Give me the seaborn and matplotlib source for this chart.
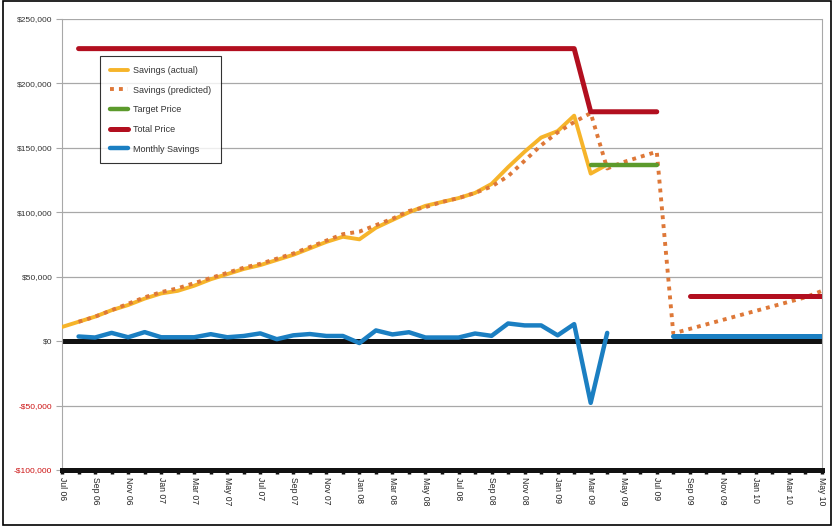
import matplotlib.pyplot as plt
import matplotlib.patches as mpatches
import numpy as np
import pandas as pd
import seaborn as sns

# =========================================================
# Data (monthly, Jul 06 .. May 10)
# =========================================================

months = pd.date_range("2006-07-01", "2010-05-01", freq="MS")
month_labels = [m.strftime("%b %y") for m in months]

actual_idx = list(range(0, 34))
savings_actual = [
    11000, 15000, 19000, 24000, 28000, 33000, 37000, 39000, 43000, 48000,
    52000, 56000, 59000, 63000, 67000, 72000, 77000, 81000, 79000, 88000,
    94000, 100000, 105000, 108000, 111000, 115000, 122000, 135000, 147000, 158000,
    163000, 175000, 130000, 137000,
]

predicted_idx = list(range(1, 47))
savings_predicted = [
    15000, 19000, 24000, 29000, 34000, 38000, 41000, 45000, 49000, 53000,
    57000, 60000, 64000, 68000, 73000, 78000, 83000, 85000, 90000, 95000,
    101000, 104000, 108000, 111000, 115000, 120000, 128000, 140000, 152000, 162000,
    170000, 177000, 134000, 139000, 143000, 147000,
    6000, 9500, 13000, 16500, 20000, 23500, 27000, 30500, 34000, 39000,
]

target_idx = [32, 33, 34, 35, 36]
target_price = [137000, 137000, 137000, 137000, 137000]

total_idx_a = list(range(1, 37))
total_price_a = [227000] * 31 + [178000] * 5
total_idx_b = list(range(38, 47))
total_price_b = [35000] * 9

monthly_idx_a = list(range(1, 34))
monthly_savings_a = [
    3600, 2800, 6400, 3000, 7000, 3000, 3000, 3000, 5400, 3000,
    4000, 6000, 1500, 4500, 5500, 4000, 4000, -1500, 8300, 5200,
    6900, 2800, 2800, 2800, 5900, 4100, 13700, 12200, 12200, 4500,
    13200, -47900, 6400,
]
monthly_idx_b = list(range(37, 47))
monthly_savings_b = [4000] * 10

# =========================================================
# Figure
# =========================================================

sns.set_style("white")
plt.rcParams["font.family"] = ["Liberation Sans", "DejaVu Sans"]

fig = plt.figure(figsize=(8.35, 5.26), dpi=100)
ax = fig.add_axes([0.0743, 0.1065, 0.9101, 0.8574])

C_ACTUAL = "#F6B42A"
C_PRED = "#DE7838"
C_TARGET = "#5C9A2C"
C_TOTAL = "#B20F1F"
C_MONTHLY = "#1B7FC2"

for yv in range(-50000, 250001, 50000):
    if yv != 0:
        ax.axhline(yv, color="#A8A8A8", lw=0.9, zorder=0)
ax.axhline(0, color="#111111", lw=3.6, zorder=1)

sns.lineplot(x=actual_idx, y=savings_actual, ax=ax, color=C_ACTUAL,
             lw=2.8, label="Savings (actual)", zorder=3)
sns.lineplot(x=predicted_idx, y=savings_predicted, ax=ax, color=C_PRED,
             lw=2.8, linestyle=(0, (1, 1.3)), label="Savings (predicted)", zorder=4)
sns.lineplot(x=target_idx, y=target_price, ax=ax, color=C_TARGET,
             lw=3.2, label="Target Price", zorder=5)
sns.lineplot(x=total_idx_a, y=total_price_a, ax=ax, color=C_TOTAL,
             lw=3.6, label="Total Price", zorder=5)
sns.lineplot(x=total_idx_b, y=total_price_b, ax=ax, color=C_TOTAL,
             lw=3.6, zorder=5)
sns.lineplot(x=monthly_idx_a, y=monthly_savings_a, ax=ax, color=C_MONTHLY,
             lw=3.2, label="Monthly Savings", zorder=6)
sns.lineplot(x=monthly_idx_b, y=monthly_savings_b, ax=ax, color=C_MONTHLY,
             lw=3.6, zorder=6)

ax.set_xlim(0, len(months) - 1)
ax.set_ylim(-100000, 250000)

ax.set_xticks(range(len(months)))
ax.set_xticklabels(
    [lab if i % 2 == 0 else "" for i, lab in enumerate(month_labels)],
    rotation=270, fontsize=6.2, color="#222222"
)
ax.set_yticks(range(-100000, 250001, 50000))
ylabels = []
for v in range(-100000, 250001, 50000):
    ylabels.append(f"-${-v:,}" if v < 0 else f"${v:,}")
ax.set_yticklabels(ylabels, fontsize=6)
for t, v in zip(ax.get_yticklabels(), range(-100000, 250001, 50000)):
    t.set_color("#CC1111" if v < 0 else "#333333")

ax.tick_params(axis="x", length=3, width=2.5, color="#111111", pad=2,
               bottom=True)
ax.tick_params(axis="y", length=4, width=0.8, color="#A8A8A8", pad=3, left=True)

ax.spines["top"].set_visible(False)
ax.spines["left"].set_color("#A8A8A8")
ax.spines["right"].set_color("#A8A8A8")
ax.spines["bottom"].set_color("#111111")
ax.spines["bottom"].set_linewidth(3.6)

leg = ax.legend(loc="upper left", bbox_to_anchor=(0.05, 0.918), fontsize=6.5,
                frameon=True, fancybox=False, edgecolor="black",
                handlelength=2.0, labelspacing=1.18, borderpad=1.1,
                handletextpad=0.6, borderaxespad=0)
leg.get_frame().set_linewidth(0.8)
for t in leg.get_texts():
    t.set_color("#333333")

fig.patches.append(mpatches.Rectangle((0.004, 0.002), 0.991, 0.996,
                                      transform=fig.transFigure, fill=False,
                                      edgecolor="black", lw=1.2))

plt.savefig("out.png", dpi=100)
